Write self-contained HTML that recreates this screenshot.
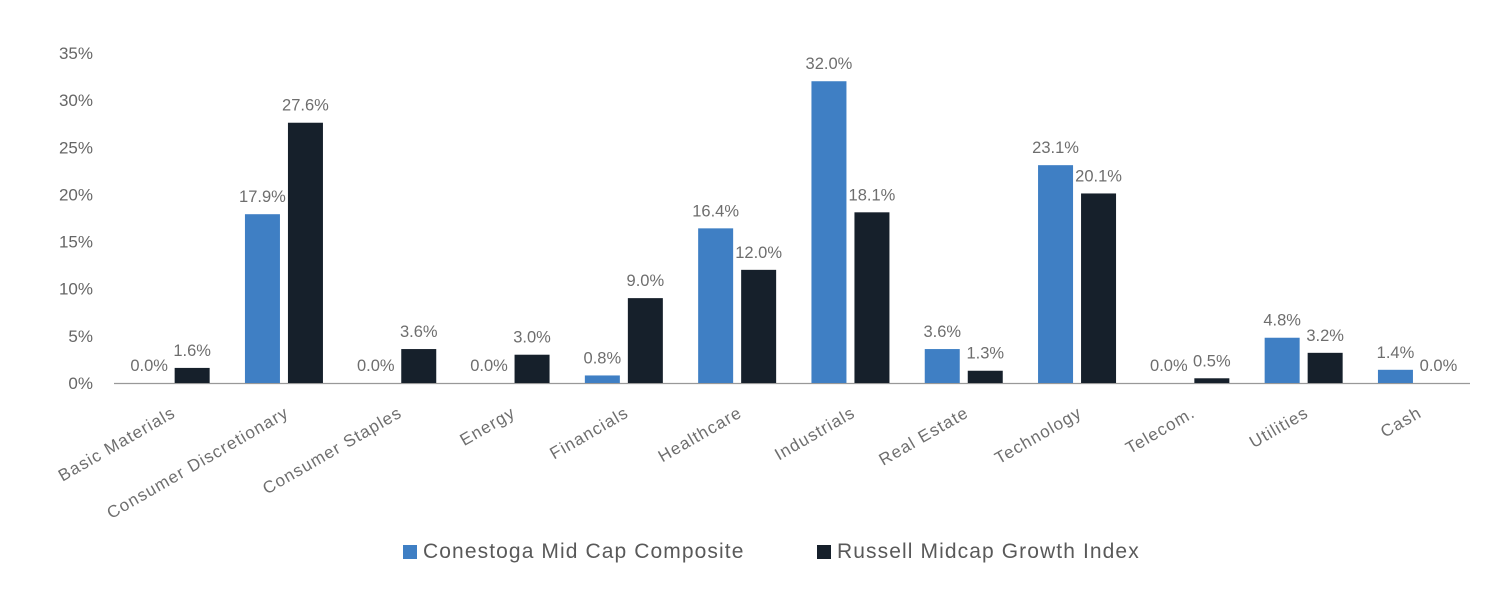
<!DOCTYPE html>
<html><head><meta charset="utf-8"><style>
body{margin:0;background:#fff;width:1512px;height:606px;overflow:hidden;font-family:"Liberation Sans",sans-serif}
</style></head><body>
<svg width="1512" height="606" id="chart" xmlns="http://www.w3.org/2000/svg"></svg>
<script>
const categories=["Basic Materials","Consumer Discretionary","Consumer Staples","Energy","Financials","Healthcare","Industrials","Real Estate","Technology","Telecom.","Utilities","Cash"];
const composite=[0.0,17.9,0.0,0.0,0.8,16.4,32.0,3.6,23.1,0.0,4.8,1.4];
const index=[1.6,27.6,3.6,3.0,9.0,12.0,18.1,1.3,20.1,0.5,3.2,0.0];
const yTicks=[0,5,10,15,20,25,30,35];
const svg=document.getElementById('chart');
const NS="http://www.w3.org/2000/svg";
const x0=114,step=113.3,y0=383,ppu=47.15/5;
const y=v=>y0-v*ppu;
const cx=i=>x0+step*(i+0.5);
function mk(t,a,txt){const e=document.createElementNS(NS,t);for(const k in a)e.setAttribute(k,a[k]);if(txt!==undefined)e.textContent=txt;svg.appendChild(e);return e;}
yTicks.forEach(v=>{
 const e=mk('text',{x:93,y:y(v)+6,'text-anchor':'end','font-size':17,fill:'#666'},v+'%');
 
 
});
const ax=mk('line',{x1:114,x2:1470,y1:y0+0.5,y2:y0+0.5,stroke:'#999','stroke-width':1.2});


categories.forEach((c,i)=>{
 const c0=cx(i);
 [[composite[i],'#3f7fc4',c0-39,'composite'],[index[i],'#16202b',c0+4,'index']].forEach(([v,col,bx,s])=>{
  const r=mk('rect',{x:bx,y:y(v),width:35,height:v*ppu,fill:col});
  
  
  const t=mk('text',{x:bx+17.5,y:y(v)-12,'text-anchor':'middle','font-size':16.5,fill:'#6e6e6e'},v.toFixed(1)+'%');
  
  
 });
 const l=mk('text',{x:0,y:0,'text-anchor':'end','font-size':17,'letter-spacing':1.1,fill:'#6e6e6e',transform:`translate(${c0+6},${416}) rotate(-30)`},c);
 
 
});
[[403,'#3f7fc4','Conestoga Mid Cap Composite'],[817,'#16202b','Russell Midcap Growth Index']].forEach(([lx,col,txt])=>{
 const r=mk('rect',{x:lx,y:545,width:14,height:14,fill:col});
 
 
 const t=mk('text',{x:lx+20,y:558,'font-size':21,'letter-spacing':1.1,fill:'#595959'},txt);
 
 
});
</script>
</body></html>
